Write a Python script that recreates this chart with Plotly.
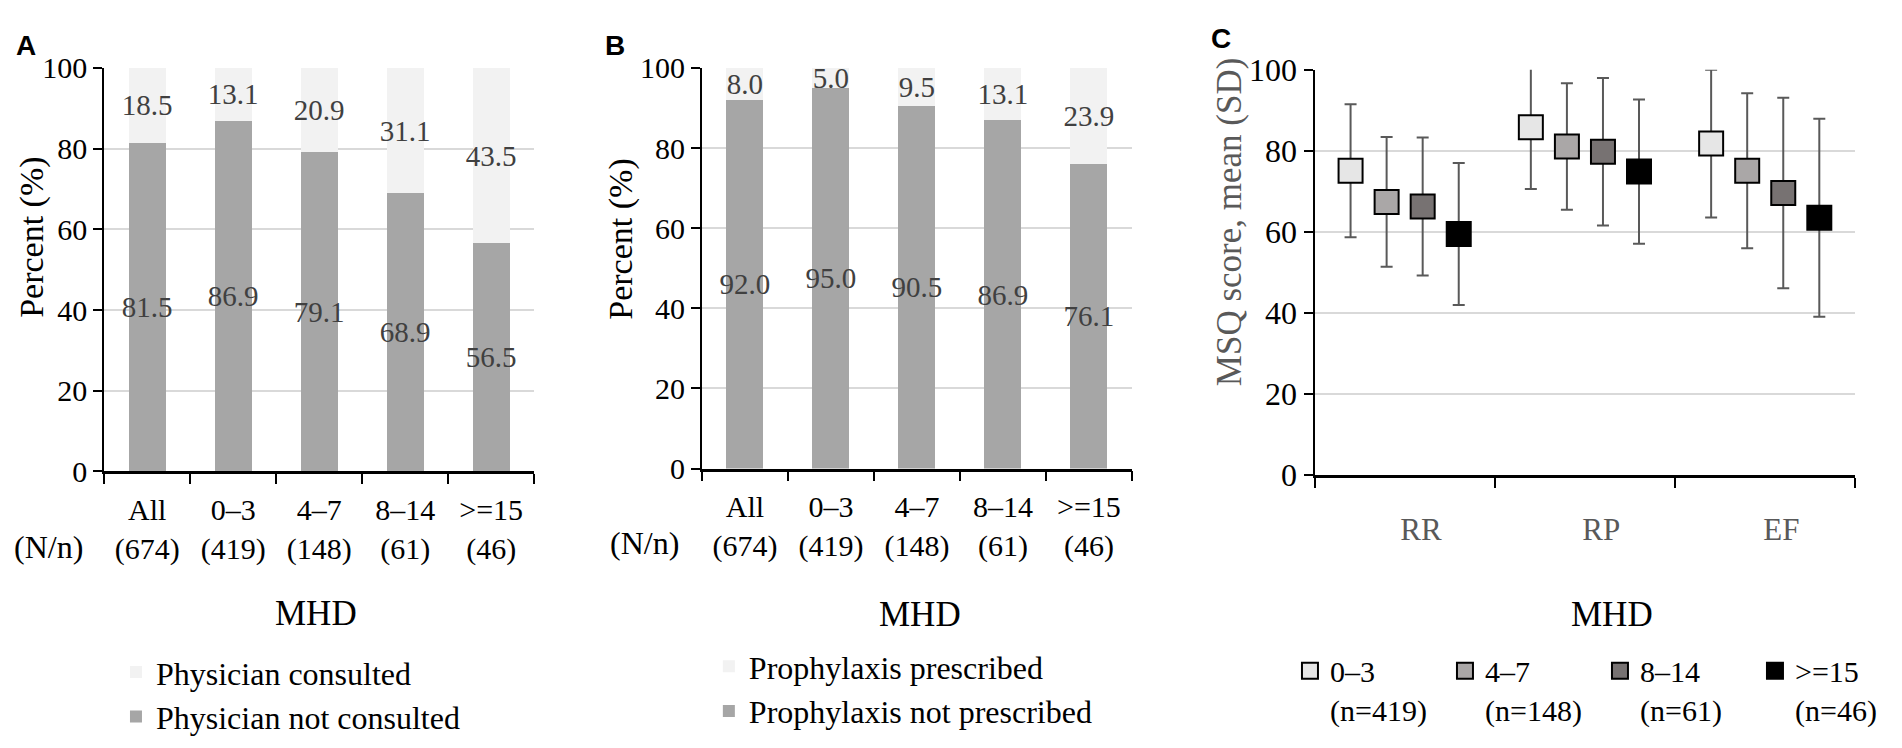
import plotly.graph_objects as go

W, H = 1902, 748

# panel A / B: stacked percentages by MHD group
groups = ["All", "0–3", "4–7", "8–14", ">=15"]
group_n = [674, 419, 148, 61, 46]
phys_not = [81.5, 86.9, 79.1, 68.9, 56.5]
phys_yes = [18.5, 13.1, 20.9, 31.1, 43.5]
proph_not = [92.0, 95.0, 90.5, 86.9, 76.1]
proph_yes = [8.0, 5.0, 9.5, 13.1, 23.9]

# panel C: MSQ domain scores, mean and SD per MHD group
domains = ["RR", "RP", "EF"]
c_groups = ["0–3", "4–7", "8–14", ">=15"]
c_n = [419, 148, 61, 46]
msq_mean = {
    "0–3": [75.1, 85.8, 81.8],
    "4–7": [67.4, 81.1, 75.1],
    "8–14": [66.3, 79.8, 69.6],
    ">=15": [59.5, 74.9, 63.5],
}
msq_sd = {
    "0–3": [16.4, 15.2, 18.2],
    "4–7": [16.0, 15.6, 19.1],
    "8–14": [17.0, 18.2, 23.5],
    ">=15": [17.5, 17.8, 24.4],
}
c_colors = ["#e6e6e6", "#aaa7a7", "#777272", "#000000"]
c_offsets = [-0.3, -0.1, 0.1, 0.3]

SERIF = "Liberation Serif"
DARK = "#a6a6a6"
LIGHT = "#f2f2f2"
LABEL = "#404040"

xlabels = [f"{g}<br>({n})" for g, n in zip(groups, group_n)]

fig = go.Figure()


def add_stack(vals_not, vals_yes, name_not, name_yes, xa, ya, legend):
    for vals, name, color in [(vals_not, name_not, DARK), (vals_yes, name_yes, LIGHT)]:
        fig.add_trace(go.Bar(
            x=xlabels, y=vals, name=name,
            marker=dict(color=color, line=dict(width=0)),
            text=[f"{v:.1f}" for v in vals],
            textposition="inside", insidetextanchor="middle",
            textangle=0, constraintext="none",
            textfont=dict(family=SERIF, size=29, color=LABEL),
            xaxis=xa, yaxis=ya, legend=legend,
        ))


add_stack(phys_not, phys_yes, "Physician not consulted", "Physician consulted", "x", "y", "legend")
add_stack(proph_not, proph_yes, "Prophylaxis not prescribed", "Prophylaxis prescribed", "x2", "y2", "legend2")

for k, g in enumerate(c_groups):
    fig.add_trace(go.Scatter(
        x=[i + 0.5 + c_offsets[k] for i in range(len(domains))],
        y=msq_mean[g],
        mode="markers",
        name=f"{g}<br>(n={c_n[k]})",
        marker=dict(symbol="square", size=24, color=c_colors[k],
                    line=dict(color="black", width=2)),
        error_y=dict(type="data", array=msq_sd[g], visible=True,
                     color="#595959", thickness=2, width=6),
        xaxis="x3", yaxis="y3", legend="legend3",
    ))


def px(x):
    return x / W


def py(y):
    return 1 - y / H


bar_x = dict(
    type="category", showline=True, linecolor="black", linewidth=2.5,
    ticks="outside", tickson="boundaries", ticklen=10, tickwidth=2, tickcolor="black",
    tickangle=0,
    tickfont=dict(family=SERIF, size=30, color="black"), ticklabelstandoff=10,
    showgrid=False, fixedrange=True,
)
bar_y = dict(
    range=[0, 100], tickvals=[0, 20, 40, 60, 80, 100],
    showline=True, linecolor="black", linewidth=2,
    ticks="outside", ticklen=9, tickwidth=2, tickcolor="black",
    tickfont=dict(family=SERIF, size=30, color="black"),
    showgrid=True, gridcolor="#d9d9d9", gridwidth=2, zeroline=False,
)

leg = dict(
    font=dict(family=SERIF, size=32, color="black"),
    bgcolor="rgba(0,0,0,0)", traceorder="reversed", itemclick=False,
    tracegroupgap=0,
)

fig.update_layout(
    width=W, height=H,
    margin=dict(l=0, r=0, t=0, b=0),
    paper_bgcolor="white", plot_bgcolor="white",
    barmode="stack", bargap=0.57,
    xaxis=dict(bar_x, domain=[px(98), px(536)], anchor="y"),
    yaxis=dict(bar_y, domain=[py(468), py(44)], anchor="x"),
    xaxis2=dict(bar_x, domain=[px(707), px(1145)], anchor="y2"),
    yaxis2=dict(bar_y, domain=[py(465), py(44)], anchor="x2"),
    xaxis3=dict(
        range=[0, 3], showline=True, linecolor="black", linewidth=2.5,
        tickvals=[i + 0.59 for i in range(len(domains))], ticktext=domains,
        ticks="", tickfont=dict(family=SERIF, size=31, color="#595959"),
        ticklabelstandoff=25,
        minor=dict(tickvals=[0, 1, 2, 3], ticks="outside", ticklen=10,
                   tickwidth=2, tickcolor="black", showgrid=False),
        showgrid=False, zeroline=False, domain=[px(1331), px(1882)], anchor="y3",
    ),
    yaxis3=dict(bar_y, domain=[py(472), py(46)], anchor="x3",
                tickfont=dict(family=SERIF, size=32, color="black")),
    legend=dict(leg, x=px(110), y=py(650), xanchor="left", yanchor="top"),
    legend2=dict(leg, x=px(714), y=py(644), xanchor="left", yanchor="top"),
    legend3=dict(
        font=dict(family=SERIF, size=30, color="black"),
        bgcolor="rgba(0,0,0,0)", orientation="h", entrywidth=110,
        valign="top", itemclick=False,
        x=px(1306), y=py(650), xanchor="left", yanchor="top",
    ),
    showlegend=True,
)

ann = []
for letter, x, y in [("A", 18, 20), ("B", 618, 21), ("C", 1236, 13)]:
    ann.append(dict(text=f"<b>{letter}</b>", x=px(x), y=py(y)))
    ann[-1]["font"] = dict(family="Liberation Sans", size=28, color="black")
for txt, x, y, col, size in [("Percent (%)", 25, 222, "black", 34),
                             ("Percent (%)", 625, 224, "black", 34),
                             ("MSQ score, mean (SD)", 1244, 206, "#595959", 35)]:
    ann.append(dict(text=txt, x=px(x), y=py(y), textangle=-90,
                    font=dict(family=SERIF, size=size, color=col)))
for x, y in [(41, 547), (648, 543)]:
    ann.append(dict(text="(N/n)", x=px(x), y=py(y),
                    font=dict(family=SERIF, size=32, color="black")))
for x, y in [(314, 617), (929, 618), (1634, 618)]:
    ann.append(dict(text="MHD", x=px(x), y=py(y),
                    font=dict(family=SERIF, size=35, color="black")))
for a in ann:
    a.update(xref="paper", yref="paper", showarrow=False,
             xanchor="center", yanchor="middle")
fig.update_layout(annotations=ann)

fig.write_html("out.html")
